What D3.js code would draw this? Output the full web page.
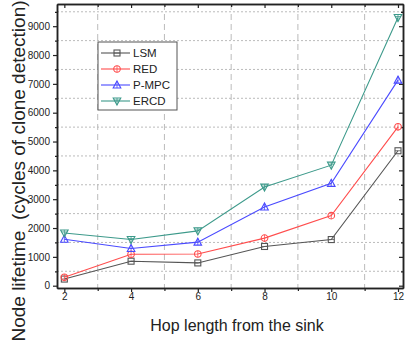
<!DOCTYPE html>
<html lang="en">
<head>
    <script src='https://d3js.org/d3.v7.min.js'></script>
</head>
<style>
body { margin: 0; background: #fff; }
text { font-family: "Liberation Sans", Arial, sans-serif; fill: #222; }
</style>
<body>
<script>
// Data
const hops = [2, 4, 6, 8, 10, 12];
const lsm  = [230, 850, 790, 1360, 1600, 4680];
const red  = [290, 1090, 1100, 1650, 2430, 5510];
const pmpc = [1610, 1290, 1510, 2730, 3550, 7130];
const ercd = [1830, 1600, 1900, 3420, 4180, 9300];
const seriesNames = ["LSM", "RED", "P-MPC", "ERCD"];
const xTicks = [2, 4, 6, 8, 10, 12];
const yTicks = [0, 1000, 2000, 3000, 4000, 5000, 6000, 7000, 8000, 9000];

const xSize = 405; const ySize = 342;
const pLeft = 57, pRight = 403, pTop = 4, pBottom = 288;

const svg = d3.select("body").append("svg")
  .attr("width", xSize).attr("height", ySize);

const x = d3.scaleLinear().domain([1.78, 12.15]).range([pLeft, pRight]);
const y = d3.scaleLinear().domain([-80, 9770]).range([pBottom, pTop]);

const xMinor = d3.range(3, 12, 2);
const yMinor = d3.range(500, 9770, 1000);

// grid: vertical dashed at odd hops, horizontal dotted at half-thousands
svg.append("g").selectAll("line").data(xMinor).enter().append("line")
  .attr("x1", d => x(d)).attr("x2", d => x(d))
  .attr("y1", pTop).attr("y2", pBottom)
  .attr("stroke", "#bbb").attr("stroke-width", 1).attr("stroke-dasharray", "6,4");
svg.append("g").selectAll("line").data(yMinor).enter().append("line")
  .attr("x1", pLeft).attr("x2", pRight)
  .attr("y1", d => y(d)).attr("y2", d => y(d))
  .attr("stroke", "#bbb").attr("stroke-width", 1).attr("stroke-dasharray", "2,2");

// axes
const axisStyle = g => {
  g.select(".domain").attr("stroke", "#222").attr("stroke-width", 1.5);
  g.selectAll(".tick line").attr("stroke", "#222").attr("stroke-width", 1.2);
  g.selectAll("text").style("font-size", "10px").attr("fill", "#222");
};
svg.append("g").attr("transform", `translate(0,${pBottom})`)
  .call(d3.axisBottom(x).tickValues(xTicks).tickSize(4).tickSizeOuter(0).tickPadding(1))
  .call(axisStyle);
svg.append("g").attr("transform", `translate(0,${pBottom})`)
  .call(d3.axisBottom(x).tickValues(xMinor).tickSize(3).tickSizeOuter(0).tickFormat(""))
  .call(axisStyle);
svg.append("g").attr("transform", `translate(${pLeft},0)`)
  .call(d3.axisLeft(y).tickValues(yTicks).tickFormat(d3.format("d")).tickSize(4).tickSizeOuter(0).tickPadding(3))
  .call(axisStyle);
svg.append("g").attr("transform", `translate(${pLeft},0)`)
  .call(d3.axisLeft(y).tickValues(yMinor).tickSize(2).tickSizeOuter(0).tickFormat(""))
  .call(axisStyle);
// mirrored top and right, ticks inward
svg.append("g").attr("transform", `translate(0,${pTop})`)
  .call(d3.axisTop(x).tickValues(xTicks).tickSize(-4).tickSizeOuter(0).tickFormat(""))
  .call(axisStyle);
svg.append("g").attr("transform", `translate(0,${pTop})`)
  .call(d3.axisTop(x).tickValues(xMinor).tickSize(-3).tickSizeOuter(0).tickFormat(""))
  .call(axisStyle);
svg.append("g").attr("transform", `translate(${pRight},0)`)
  .call(d3.axisRight(y).tickValues(yTicks).tickSize(-4).tickSizeOuter(0).tickFormat(""))
  .call(axisStyle);
svg.append("g").attr("transform", `translate(${pRight},0)`)
  .call(d3.axisRight(y).tickValues(yMinor).tickSize(-2).tickSizeOuter(0).tickFormat(""))
  .call(axisStyle);

// markers
const drawMarker = (g, kind, colour) => {
  if (kind === "square") {
    g.append("rect").attr("x", -3).attr("y", -3).attr("width", 6).attr("height", 6)
      .attr("fill", "none").attr("stroke", colour).attr("stroke-width", 1.1);
    g.append("path").attr("d", "M-3,0H3").attr("stroke", colour).attr("stroke-width", 0.8);
  } else if (kind === "circle") {
    g.append("circle").attr("r", 3.3).attr("fill", "none").attr("stroke", colour).attr("stroke-width", 1.1);
    g.append("path").attr("d", "M0,-3.3V3.3").attr("stroke", colour).attr("stroke-width", 0.8);
  } else if (kind === "up") {
    g.append("path").attr("d", "M0,-4L3.8,3H-3.8Z").attr("fill", "none").attr("stroke", colour).attr("stroke-width", 1.1);
    g.append("path").attr("d", "M0,-4V3").attr("stroke", colour).attr("stroke-width", 0.8);
  } else {
    g.append("path").attr("d", "M0,4L3.8,-3H-3.8Z").attr("fill", "none").attr("stroke", colour).attr("stroke-width", 1.1);
    g.append("path").attr("d", "M0,4V-3M-3,-1H3").attr("stroke", colour).attr("stroke-width", 0.8);
  }
};

const series = [
  {name: seriesNames[0], values: lsm,  colour: "#555555", marker: "square"},
  {name: seriesNames[1], values: red,  colour: "#ff4d4d", marker: "circle"},
  {name: seriesNames[2], values: pmpc, colour: "#4a4aff", marker: "up"},
  {name: seriesNames[3], values: ercd, colour: "#3d9a8b", marker: "down"}
];

const line = d3.line().x(d => x(d[0])).y(d => y(d[1]));
series.forEach(s => {
  const pts = hops.map((h, i) => [h, s.values[i]]);
  svg.append("path").datum(pts)
    .attr("fill", "none").attr("stroke", s.colour).attr("stroke-width", 1.1)
    .attr("d", line);
  pts.forEach(p => {
    const g = svg.append("g").attr("transform", `translate(${x(p[0])},${y(p[1])})`);
    drawMarker(g, s.marker, s.colour);
  });
});

// legend
const legend = svg.append("g").attr("transform", "translate(98,42)");
legend.append("rect").attr("width", 79).attr("height", 68)
  .attr("fill", "#fff").attr("stroke", "#555").attr("stroke-width", 1);
series.forEach((s, i) => {
  const ly = 11 + i * 16;
  legend.append("line").attr("x1", 3).attr("x2", 32).attr("y1", ly).attr("y2", ly)
    .attr("stroke", s.colour).attr("stroke-width", 1.1);
  const g = legend.append("g").attr("transform", `translate(19,${ly})`);
  drawMarker(g, s.marker, s.colour);
  legend.append("text").attr("x", 35).attr("y", ly + 4)
    .style("font-size", "11.5px").text(s.name);
});

// axis titles
svg.append("text")
  .attr("x", 237).attr("y", 331)
  .attr("text-anchor", "middle")
  .style("font-size", "16px")
  .text("Hop length from the sink");
svg.append("text")
  .attr("transform", "translate(25,171) rotate(-90)")
  .attr("text-anchor", "middle")
  .style("font-size", "19px")
  .style("white-space", "pre")
  .text("Node lifetime  (cycles of clone detection)");
</script>
</body>
</html>
